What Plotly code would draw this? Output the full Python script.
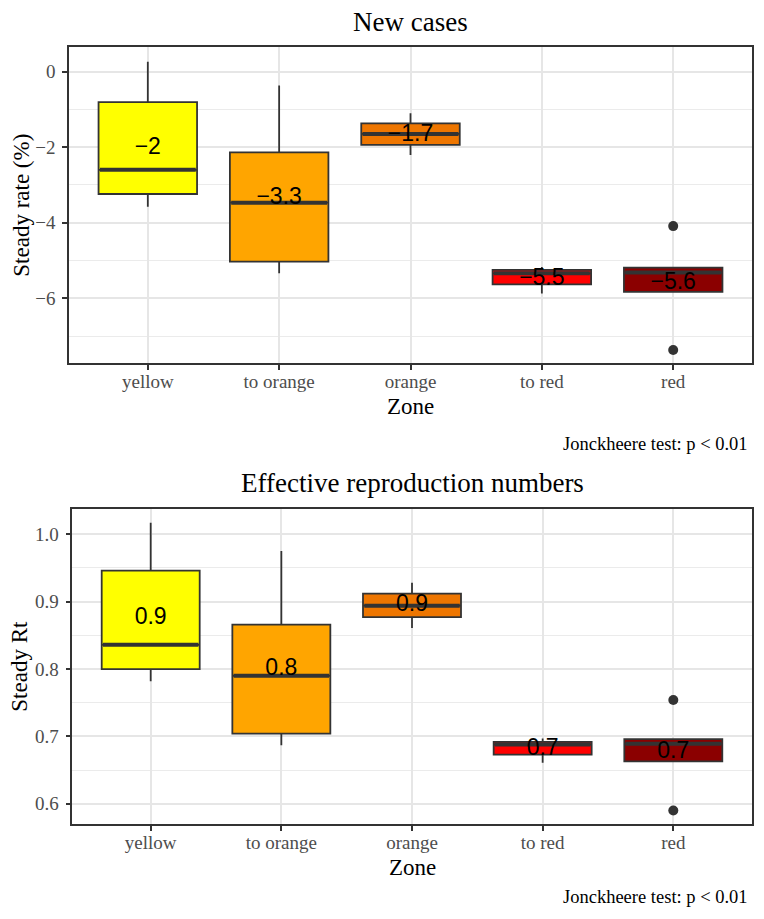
import plotly.graph_objects as go

# ---------------- data ----------------
zones = ["yellow", "to orange", "orange", "to red", "red"]
zone_colors = ["#FFFF00", "#FFA500", "#EE7600", "#FF0000", "#8B0000"]

# New cases (steady rate, %)
nc_lower = [-3.58, -5.34, -2.21, -5.87, -5.83]
nc_q1 = [-3.24, -5.03, -1.94, -5.63, -5.83]
nc_median = [-2.60, -3.47, -1.65, -5.34, -5.32]
nc_q3 = [-0.81, -2.14, -1.37, -5.25, -5.19]
nc_upper = [0.26, -0.37, -1.10, -5.17, -5.19]
nc_mean = [-2.02, -3.35, -1.68, -5.49, -5.59]
nc_labels = ["−2", "−3.3", "−1.7", "−5.5", "−5.6"]
nc_out_zone = ["red", "red"]
nc_out_y = [-4.09, -7.37]
nc_ticks = [-6, -4, -2, 0]

# Effective reproduction numbers (steady Rt)
rt_lower = [0.782, 0.687, 0.861, 0.661, 0.663]
rt_q1 = [0.800, 0.704, 0.877, 0.673, 0.663]
rt_median = [0.836, 0.790, 0.894, 0.688, 0.689]
rt_q3 = [0.946, 0.866, 0.912, 0.692, 0.696]
rt_upper = [1.017, 0.975, 0.928, 0.697, 0.696]
rt_mean = [0.875, 0.799, 0.895, 0.681, 0.676]
rt_labels = ["0.9", "0.8", "0.9", "0.7", "0.7"]
rt_out_zone = ["red", "red"]
rt_out_y = [0.754, 0.590]
rt_ticks = [0.6, 0.7, 0.8, 0.9, 1.0]

caption = "Jonckheere test: p < 0.01"

# ---------------- styling ----------------
# the page body adds an 8px margin, so the figure is drawn 8px smaller
# and every page-pixel position below is shifted by that offset
OFF = 8
W, H = 764 - OFF, 919 - OFF
SERIF = "Liberation Serif, Times New Roman, serif"
SANS = "Liberation Sans, Arial, sans-serif"
DARK = "#333333"
BOX_W = 0.75

pos = {z: i + 1 for i, z in enumerate(zones)}

fig = go.Figure()


def add_panel(xa, ya, lower, q1, med, q3, upper, mean, labels, out_zone, out_y):
    for i, z in enumerate(zones):
        p = pos[z]
        fig.add_trace(go.Box(
            x=[p], lowerfence=[lower[i]], q1=[q1[i]], median=[med[i]],
            q3=[q3[i]], upperfence=[upper[i]], width=BOX_W,
            fillcolor=zone_colors[i], line=dict(color=DARK, width=1.8),
            whiskerwidth=0, boxpoints=False, showlegend=False,
            xaxis=xa, yaxis=ya, hoverinfo="skip"))
        # thicker median line (ggplot style)
        fig.add_trace(go.Scatter(
            x=[p - BOX_W / 2 + 0.01, p + BOX_W / 2 - 0.01], y=[med[i], med[i]],
            mode="lines", line=dict(color=DARK, width=4),
            showlegend=False, xaxis=xa, yaxis=ya, hoverinfo="skip"))
    fig.add_trace(go.Scatter(
        x=[pos[z] for z in out_zone], y=out_y, mode="markers",
        marker=dict(color=DARK, size=10), showlegend=False,
        xaxis=xa, yaxis=ya, hoverinfo="skip"))
    fig.add_trace(go.Scatter(
        x=[pos[z] for z in zones], y=mean, mode="text", text=labels,
        textposition="middle center",
        textfont=dict(family=SANS, size=23, color="black"),
        showlegend=False, xaxis=xa, yaxis=ya, hoverinfo="skip"))


add_panel("x", "y", nc_lower, nc_q1, nc_median, nc_q3, nc_upper,
          nc_mean, nc_labels, nc_out_zone, nc_out_y)
add_panel("x2", "y2", rt_lower, rt_q1, rt_median, rt_q3, rt_upper,
          rt_mean, rt_labels, rt_out_zone, rt_out_y)


def px_x(v):
    return (v - OFF) / W


def px_y(v):
    return 1 - (v - OFF) / H


tickfont = dict(family=SERIF, size=19, color="#4D4D4D")
common_x = dict(
    range=[0.4, 5.6], tickmode="array", tickvals=[pos[z] for z in zones],
    ticktext=zones, showgrid=True, gridcolor="#E6E6E6", gridwidth=1.6,
    zeroline=False, showline=True, mirror=True, linecolor=DARK, linewidth=1.5,
    ticks="outside", ticklen=5, tickwidth=1.5, tickcolor=DARK,
    tickfont=tickfont, ticklabelstandoff=-5, fixedrange=True)
common_y = dict(
    showgrid=True, gridcolor="#E6E6E6", gridwidth=1.6, zeroline=False,
    showline=True, mirror=True, linecolor=DARK, linewidth=1.5,
    ticks="outside", ticklen=5, tickwidth=1.5, tickcolor=DARK,
    tickfont=tickfont, ticklabelstandoff=3, fixedrange=True)

fig.update_layout(
    width=W, height=H, autosize=False,
    margin=dict(l=0, r=0, t=0, b=0),
    paper_bgcolor="white", plot_bgcolor="white",
    showlegend=False, boxmode="overlay",
    xaxis=dict(domain=[px_x(69), px_x(752)], anchor="y", **common_x),
    yaxis=dict(domain=[px_y(363.3), px_y(47)], anchor="x",
               range=[-7.72, 0.65], tickmode="array", tickvals=nc_ticks,
               ticktext=[("−" + str(-t)) if t < 0 else str(t) for t in nc_ticks],
               minor=dict(showgrid=True, gridcolor="#EBEBEB", gridwidth=1,
                          tick0=-7, dtick=1, ticks=""),
               **common_y),
    xaxis2=dict(domain=[px_x(72.3), px_x(751.7)], anchor="y2", **common_x),
    yaxis2=dict(domain=[px_y(824), px_y(509)], anchor="x2",
                range=[0.570, 1.0375], tickmode="array", tickvals=rt_ticks,
                ticktext=[f"{t:.1f}" for t in rt_ticks],
                minor=dict(showgrid=True, gridcolor="#EBEBEB", gridwidth=1,
                           tick0=0.55, dtick=0.1, ticks=""),
                **common_y),
)

ann = []


def text(x, y, s, size, xanchor="center", angle=0, color="black", family=SERIF):
    ann.append(dict(x=px_x(x), y=px_y(y), xref="paper", yref="paper", text=s,
                    showarrow=False, xanchor=xanchor, yanchor="middle",
                    textangle=angle, font=dict(family=family, size=size, color=color)))


text(410.5, 21.7, "New cases", 27)
text(412, 483, "Effective reproduction numbers", 27)
text(410.5, 406.5, "Zone", 23)
text(412, 867, "Zone", 23)
text(21.7, 205, "Steady rate (%)", 23, angle=-90)
text(19.2, 666.5, "Steady Rt", 23, angle=-90)
text(749.5, 444, caption, 18.5, xanchor="right")
text(749.5, 897, caption, 18.5, xanchor="right")
fig.update_layout(annotations=ann)

fig.write_html("out.html")
